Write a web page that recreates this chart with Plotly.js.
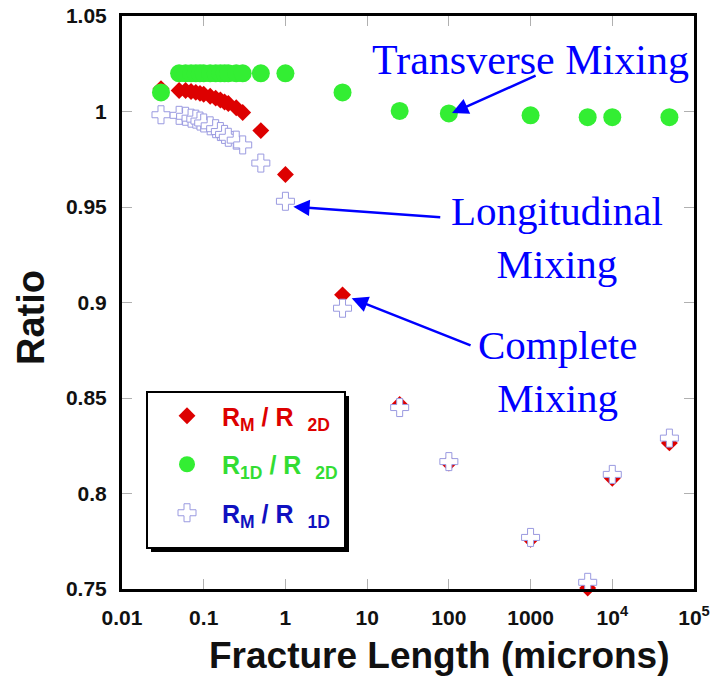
<!DOCTYPE html>
<html>
<head>
<meta charset="utf-8">
<script src="https://cdn.plot.ly/plotly-3.0.1.min.js"></script>
<style>html,body{margin:0;padding:0;background:#fff;}#chart{width:713px;height:679px;}</style>
</head>
<body>
<div id="chart"></div>
<script>
// Fracture length (microns)
const fractureLength = [0.03, 0.05, 0.06, 0.07, 0.08, 0.09, 0.1, 0.12, 0.14, 0.16, 0.18, 0.2, 0.25, 0.3, 0.5, 1, 5, 25, 100, 1000, 5000, 10000, 50000];
// R_M / R_2D (complete mixing)
const ratioM2D = [1.012, 1.011, 1.011, 1.0105, 1.010, 1.0095, 1.009, 1.008, 1.007, 1.006, 1.005, 1.0042, 1.002, 0.9995, 0.990, 0.967, 0.904, 0.8466, 0.816, 0.776, 0.7505, 0.808, 0.8265];
// R_1D / R_2D (transverse mixing)
const ratio1D2D = [1.010, 1.020, 1.020, 1.020, 1.020, 1.020, 1.020, 1.020, 1.020, 1.020, 1.020, 1.020, 1.020, 1.020, 1.020, 1.020, 1.010, 1.0003, 0.999, 0.998, 0.997, 0.997, 0.997];
// R_M / R_1D (longitudinal mixing)
const ratioM1D = [0.9983, 0.998, 0.9975, 0.9965, 0.996, 0.995, 0.994, 0.9925, 0.991, 0.9895, 0.988, 0.9865, 0.985, 0.9825, 0.973, 0.953, 0.897, 0.845, 0.8167, 0.777, 0.7535, 0.810, 0.829];

const xTickVals = [0.01, 0.1, 1, 10, 100, 1000, 10000, 100000];
const xTickText = ['0.01', '0.1', '1', '10', '100', '1000', '10<sup>4</sup>', '10<sup>5</sup>'];
const yTickVals = [0.75, 0.8, 0.85, 0.9, 0.95, 1, 1.05];
const yTickText = ['0.75', '0.8', '0.85', '0.9', '0.95', '1', '1.05'];

const sans = 'Liberation Sans, Arial, sans-serif';
const serif = 'Liberation Serif, Times New Roman, serif';
const nb = '\u00a0';

const traces = [
  {
    x: fractureLength, y: ratioM2D, type: 'scatter', mode: 'markers', cliponaxis: false,
    name: '<span style="color:#dd0000">R<sub>M</sub>' + nb + '/' + nb + 'R' + nb + nb + '<sub>2D</sub></span>',
    legendgroup: 'a',
    marker: {symbol: 'diamond', size: 13, color: '#dd0000', line: {width: 0}}
  },
  {
    x: fractureLength, y: ratio1D2D, type: 'scatter', mode: 'markers', cliponaxis: false,
    name: '<span style="color:#33dd33">R<sub>1D</sub>' + nb + '/' + nb + 'R' + nb + nb + '<sub>2D</sub></span>',
    legendgroup: 'b',
    marker: {symbol: 'circle', size: 18, color: '#33ee33', line: {width: 0}}
  },
  {
    x: fractureLength, y: ratioM1D, type: 'scatter', mode: 'markers', cliponaxis: false,
    name: '<span style="color:#1010c0">R<sub>M</sub>' + nb + '/' + nb + 'R' + nb + nb + '<sub>1D</sub></span>',
    legendgroup: 'c',
    marker: {symbol: 'cross', size: 15, color: '#ffffff', line: {width: 1, color: '#9a9ae0'}}
  }
];

const px2paperX = p => (p - 122) / 572;
const px2paperY = p => (589 - p) / 573;

const arrowStyle = {showarrow: true, arrowhead: 2, arrowsize: 1.3, arrowwidth: 2.5, arrowcolor: '#0000ff',
  text: '', xref: 'x', yref: 'y', axref: 'x', ayref: 'y', standoff: 0, startstandoff: 0};

const layout = {
  width: 713, height: 679,
  margin: {l: 122, r: 19, t: 16, b: 90},
  paper_bgcolor: '#ffffff', plot_bgcolor: '#ffffff',
  showlegend: true,
  legend: {
    x: px2paperX(152), y: px2paperY(393), xanchor: 'left', yanchor: 'top',
    bgcolor: 'rgba(0,0,0,0)', borderwidth: 0,
    font: {family: sans, size: 25, weight: 'bold'},
    tracegroupgap: 13, itemwidth: 60
  },
  xaxis: {
    type: 'log', range: [-2, 5],
    tickvals: xTickVals, ticktext: xTickText,
    ticks: 'inside', ticklen: 10, tickcolor: '#b0b0b0', tickwidth: 1,
    showline: true, linecolor: '#000000', linewidth: 3, mirror: 'allticks',
    showgrid: false, zeroline: false,
    tickfont: {family: sans, size: 21, weight: 'bold', color: '#111111'},
    ticklabelstandoff: 8
  },
  yaxis: {
    range: [0.75, 1.05],
    tickvals: yTickVals, ticktext: yTickText,
    ticks: 'inside', ticklen: 10, tickcolor: '#b0b0b0', tickwidth: 1,
    showline: true, linecolor: '#000000', linewidth: 3, mirror: 'allticks',
    showgrid: false, zeroline: false,
    tickfont: {family: sans, size: 21, weight: 'bold', color: '#111111'},
    ticklabelstandoff: 8
  },
  shapes: [
    {type: 'rect', xref: 'paper', yref: 'paper', layer: 'above',
     x0: px2paperX(151), x1: px2paperX(349), y0: px2paperY(552), y1: px2paperY(396),
     fillcolor: '#000000', line: {width: 0}},
    {type: 'rect', xref: 'paper', yref: 'paper', layer: 'above',
     x0: px2paperX(147), x1: px2paperX(345), y0: px2paperY(548), y1: px2paperY(392),
     fillcolor: '#ffffff', line: {width: 2, color: '#000000'}}
  ],
  annotations: [
    {text: 'Fracture Length (microns)', xref: 'paper', yref: 'paper', x: px2paperX(439), y: px2paperY(655),
     showarrow: false, xanchor: 'center', yanchor: 'middle', font: {family: sans, size: 37, weight: 'bold', color: '#111111'}},
    {text: 'Ratio', xref: 'paper', yref: 'paper', x: px2paperX(31), y: px2paperY(318), textangle: -90,
     showarrow: false, xanchor: 'center', yanchor: 'middle', font: {family: sans, size: 38, weight: 'bold', color: '#111111'}},
    {text: 'Transverse Mixing', xref: 'paper', yref: 'paper', x: px2paperX(530), y: px2paperY(60),
     showarrow: false, xanchor: 'center', yanchor: 'middle', font: {family: serif, size: 42, color: '#0000ff'}},
    {text: 'Longitudinal<br>Mixing', xref: 'paper', yref: 'paper', x: px2paperX(557), y: px2paperY(237),
     showarrow: false, xanchor: 'center', yanchor: 'middle', font: {family: serif, size: 41, color: '#0000ff'}},
    {text: 'Complete<br>Mixing', xref: 'paper', yref: 'paper', x: px2paperX(557), y: px2paperY(371),
     showarrow: false, xanchor: 'center', yanchor: 'middle', font: {family: serif, size: 41, color: '#0000ff'}},
    Object.assign({}, arrowStyle, {x: 2.039, y: 0.9992, ax: 3.080, ay: 1.0191}),
    Object.assign({}, arrowStyle, {x: 0.097, y: 0.9501, ax: 1.913, ay: 0.9446}),
    Object.assign({}, arrowStyle, {x: 0.811, y: 0.9022, ax: 2.284, ay: 0.8772})
  ]
};

Plotly.newPlot('chart', traces, layout, {displayModeBar: false, staticPlot: true});
</script>
</body>
</html>
